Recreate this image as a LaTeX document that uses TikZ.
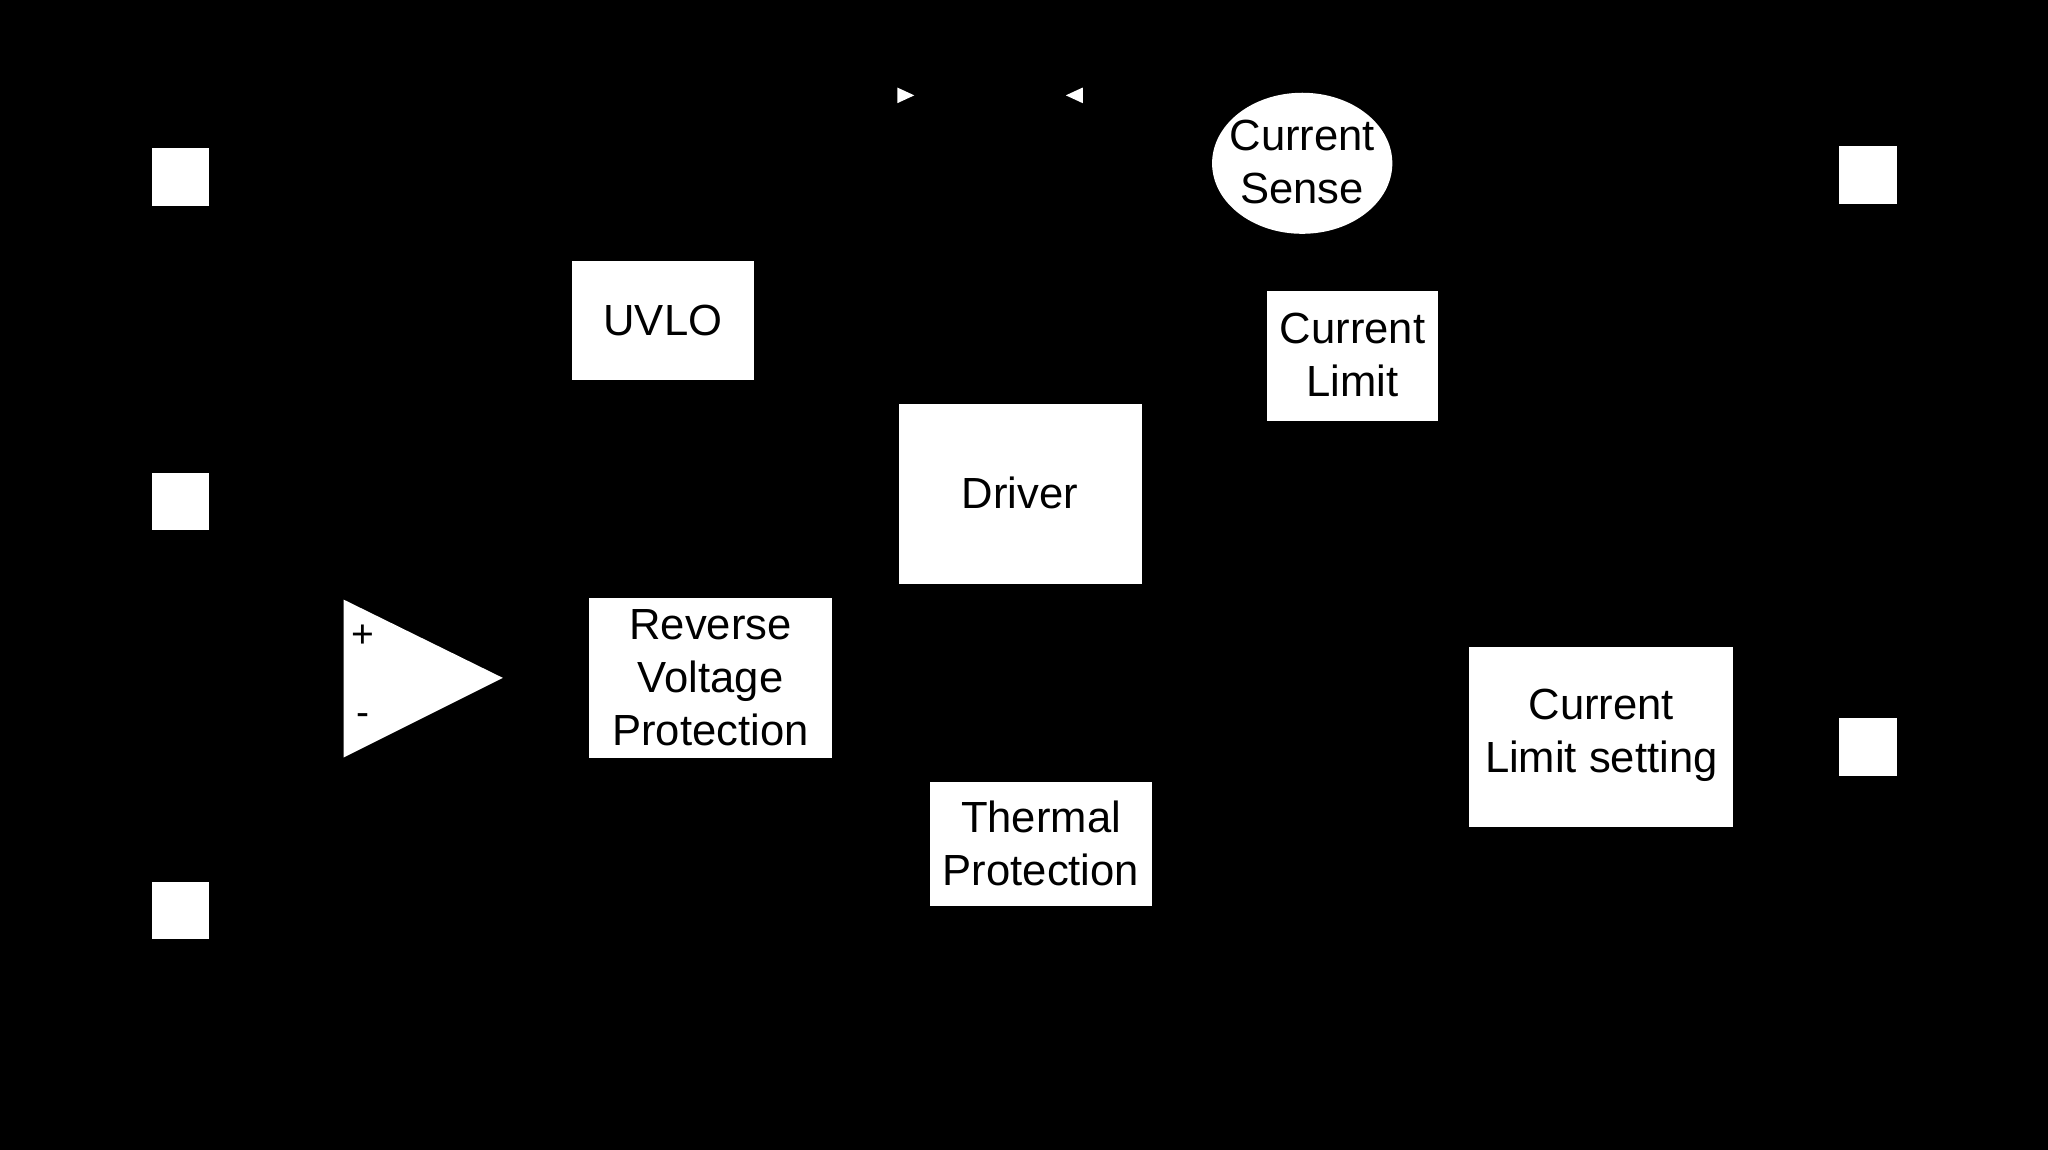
\documentclass[tikz,border=0pt]{standalone}
\usepackage{fontspec}
\setmainfont{Liberation Sans}
\begin{document}
\begin{tikzpicture}[x=0.02cm,y=-0.02cm,
  blk/.style={fill=none,draw=none,align=center,font=\fontsize{19}{23}\selectfont},
  pin/.style={fill=white,draw=none}]
\useasboundingbox (0,0) rectangle (1568,880);
\fill[black] (-5,-5) rectangle (1573,885);
% pins
\fill[pin] (116,113) rectangle (160,158);
\fill[pin] (116,362) rectangle (160,406);
\fill[pin] (116,675) rectangle (160,719);
\fill[pin] (1408,112) rectangle (1452,156);
\fill[pin] (1408,550) rectangle (1452,594);
% blocks
\fill[white] (438,200) rectangle (577,291);
\node[blk] (uvlo) at (507.5,245) {UVLO};
\fill[white] (997,125) ellipse [x radius=69, y radius=54];
\node[blk] (cs) at (997,124) {Current\\Sense};
\fill[white] (970,223) rectangle (1101,322);
\node[blk] (cl) at (1035.5,272) {Current\\Limit};
\fill[white] (688,309) rectangle (874,447);
\node[blk] (drv) at (781,377) {Driver};
\fill[white] (451,458) rectangle (637,580);
\node[blk] (rvp) at (544,519) {Reverse\\Voltage\\Protection};
\fill[white] (712,599) rectangle (882,694);
\node[blk] (tp) at (797,646) {Thermal\\Protection};
\fill[white] (1125,495) rectangle (1327,633);
\node[blk] (cls) at (1226,563) {Current\\Limit setting};
% comparator
\fill[white] (263,459) -- (263,580) -- (385,519) -- cycle;
\node[font=\fontsize{17}{20}\selectfont] (plus) at (278,487) {+};
\node[font=\fontsize{17}{20}\selectfont] (minus) at (278,551) {-};
% small arrowheads
\fill[white] (687,67) -- (700,73) -- (687,79) -- cycle;
\fill[white] (829,67) -- (816,73) -- (829,79) -- cycle;
\end{tikzpicture}
\end{document}
